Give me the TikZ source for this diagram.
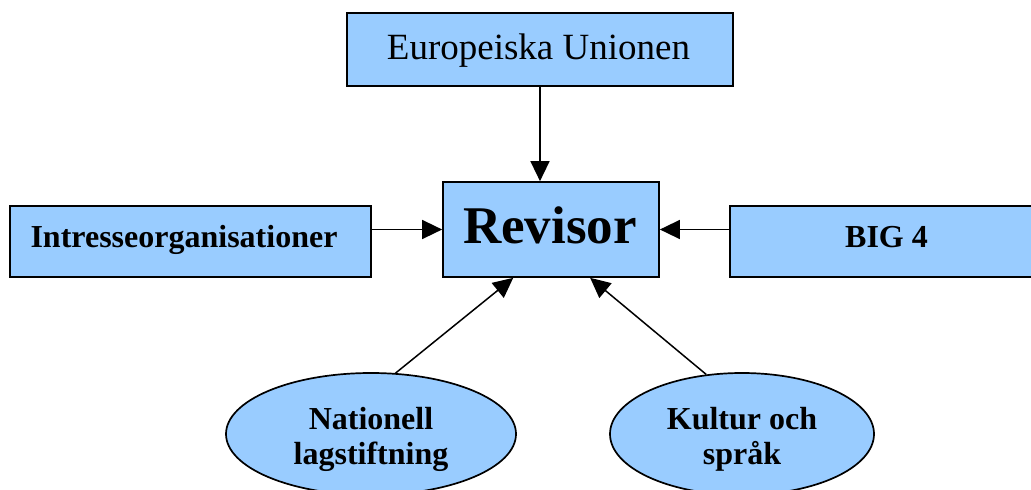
\documentclass[tikz,border=0pt]{standalone}
\usepackage{fontspec}
\setmainfont{Liberation Serif}
\usetikzlibrary{shapes.geometric,arrows.meta}
\definecolor{boxblue}{HTML}{99CCFF}
\tikzset{
  box/.style={draw=black, fill=boxblue, line width=1.7pt, rectangle, inner sep=0pt},
  oval/.style={draw=black, fill=boxblue, line width=1.7pt, ellipse, inner sep=0pt},
  txt/.style={anchor=base, inner sep=0pt, align=center},
  conn/.style={line width=1.5pt, -{Triangle[length=20pt,width=19pt]}}
}
\begin{document}
\begin{tikzpicture}[x=1pt,y=-1pt]
\useasboundingbox (0,0) rectangle (1031,490);
\begin{scope}
\clip (0,0) rectangle (1031,490);
\node[box, minimum width=386pt, minimum height=73pt] (eu) at (540,49.5) {};
\node[box, minimum width=216pt, minimum height=95pt] (rev) at (551,229.5) {};
\node[box, minimum width=361pt, minimum height=71pt] (intr) at (190.5,241.5) {};
\node[box, minimum width=313pt, minimum height=71pt] (big) at (886.5,241.5) {};
\node[oval, minimum width=290pt, minimum height=122pt] (nat) at (371,434) {};
\node[oval, minimum width=264pt, minimum height=122pt] (kul) at (742,434) {};

\node[txt, font=\fontsize{37}{40}\selectfont] (euT) at (538.5,59) {Europeiska Unionen};
\node[txt, font=\fontsize{53}{56}\selectfont\bfseries] (revT) at (550,243) {Revisor};
\node[txt, font=\fontsize{32}{34}\selectfont\bfseries] (intrT) at (184,247) {Intresseorganisationer};
\node[txt, font=\fontsize{32}{34}\selectfont\bfseries] (bigT) at (886.5,247) {BIG 4};
\node[txt, font=\fontsize{32}{35}\selectfont\bfseries] (natT) at (371,464) {Nationell\\lagstiftning};
\node[txt, font=\fontsize{32}{35}\selectfont\bfseries] (kulT) at (742,464) {Kultur och\\språk};
\end{scope}

\draw[conn] (eu.south) -- (eu.south |- rev.north);
\draw[conn] (intr.east |- rev.west) -- (rev.west);
\draw[conn] (big.west |- rev.east) -- (rev.east);
\draw[conn] (nat.68) -- (rev.-128);
\draw[conn] (kul.121) -- (rev.-51);
\end{tikzpicture}
\end{document}
